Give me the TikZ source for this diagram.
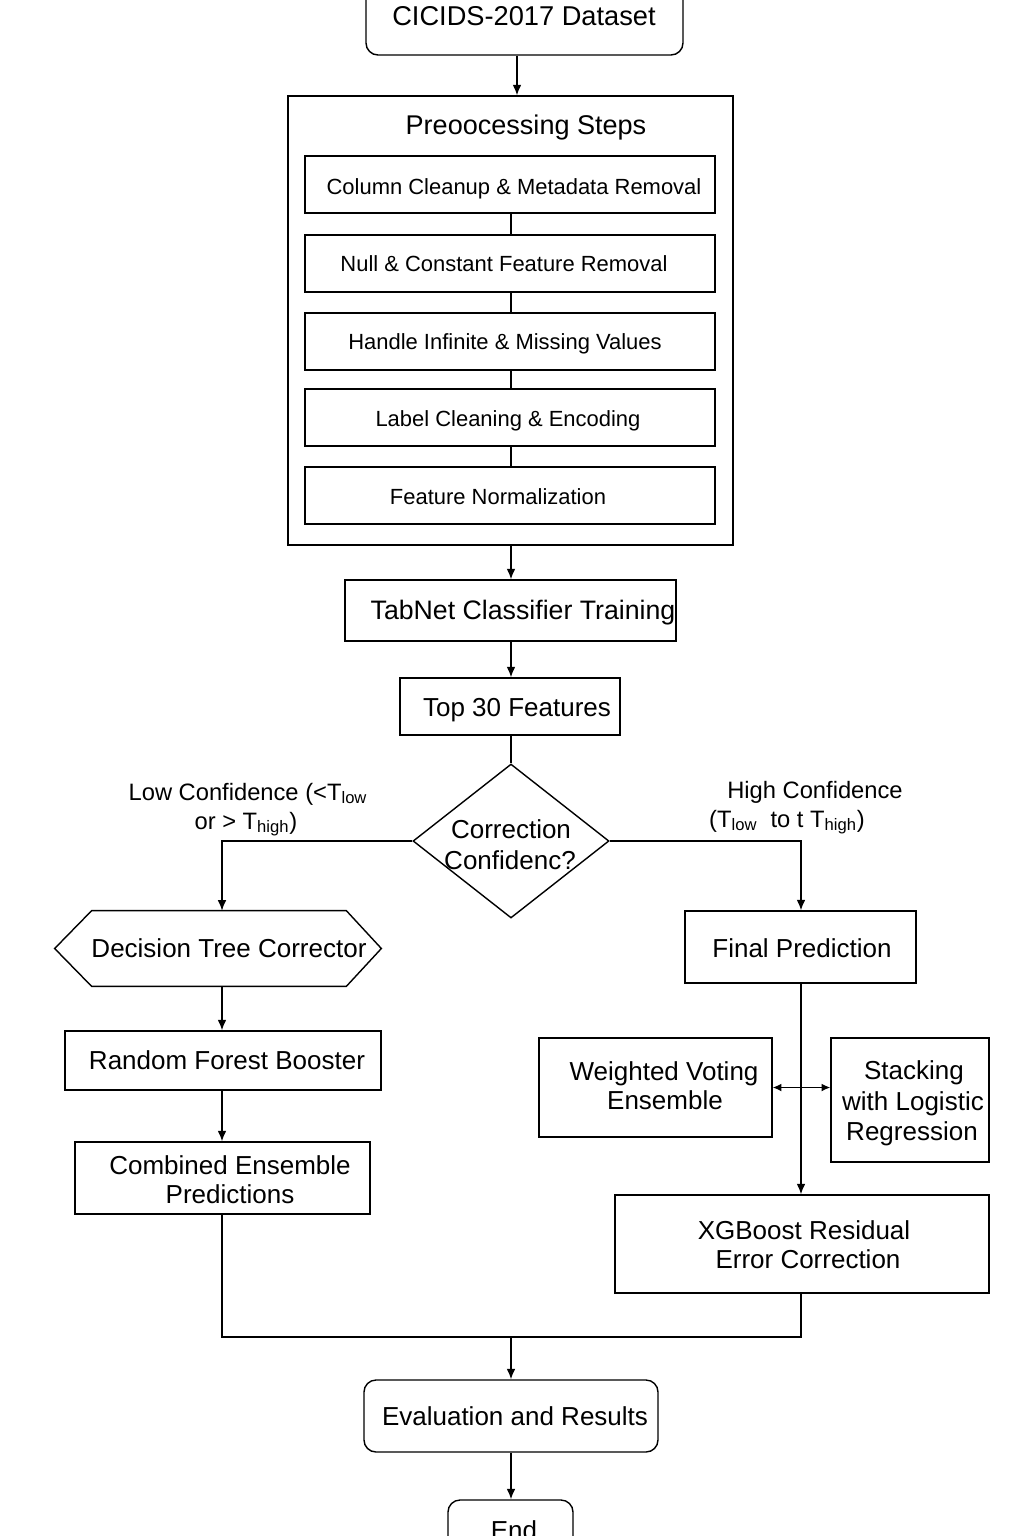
\documentclass[tikz,border=0pt]{standalone}
\usepackage{fontspec}
\setmainfont{Liberation Sans}
\usetikzlibrary{arrows.meta,calc,shapes.geometric}

\tikzset{
  sz/.style 2 args={minimum width=#1*0.02cm, minimum height=#2*0.02cm},
  box/.style={draw, line width=0.8pt, rectangle, inner sep=0pt},
  rbox/.style={box, rounded corners=0.24cm},
  ghost/.style={rectangle, inner sep=0pt},
  decision/.style={draw, line width=0.8pt, diamond, inner sep=0pt},
  txt/.style={inner sep=0pt, anchor=base, font=\fontsize{14.8}{17}\selectfont},
  bigtxt/.style={txt, font=\fontsize{15.5}{18}\selectfont},
  steptxt/.style={txt, font=\fontsize{12.5}{15}\selectfont},
  lbl/.style={txt, font=\fontsize{13.5}{16}\selectfont},
  link/.style={line width=0.8pt},
  arrow/.style={link, -{Latex[length=6pt,width=5pt]}},
  twoway/.style={link, {Latex[length=5pt,width=4.5pt]}-{Latex[length=5pt,width=4.5pt]}},
}

\begin{document}
\begin{tikzpicture}[x=0.02cm, y=-0.02cm]
\clip (0,0) rectangle (1024,1536);
\fill[white] (0,0) rectangle (1024,1536);

% ---- input and preprocessing ----
\node[rbox, sz={317}{95}] (data) at (524.5,7.5) {};
\node[bigtxt] (datat) at (524,25) {CICIDS-2017 Dataset};

\node[box, sz={445}{449}] (prep) at (510.5,320.5) {};
\node[txt, font=\fontsize{15.4}{18}\selectfont] (prept) at (526,134) {Preoocessing Steps};

\node[box, sz={410}{57}] (s1) at (510,184.5) {};
\node[box, sz={410}{57}] (s2) at (510,263.5) {};
\node[box, sz={410}{57}] (s3) at (510,341.5) {};
\node[box, sz={410}{57}] (s4) at (510,417.5) {};
\node[box, sz={410}{57}] (s5) at (510,495.5) {};
\node[steptxt] (s1t) at (514,194) {Column Cleanup \& Metadata Removal};
\node[steptxt] (s2t) at (504,271) {Null \& Constant Feature Removal};
\node[steptxt] (s3t) at (505,349) {Handle Infinite \& Missing Values};
\node[steptxt] (s4t) at (508,426) {Label Cleaning \& Encoding};
\node[steptxt] (s5t) at (498,504) {Feature Normalization};

% ---- model ----
\node[box, sz={331}{61}] (tab) at (510.5,610.5) {};
\node[txt, font=\fontsize{15.2}{18}\selectfont] (tabt) at (523,619) {TabNet Classifier Training};

\node[box, sz={220}{57}] (top) at (510,706.5) {};
\node[txt] (topt) at (517,716) {Top 30 Features};

\node[decision, sz={196}{154}] (dia) at (511,841) {};
\node[txt] (diat1) at (511,838) {Correction};
\node[txt] (diat2) at (510,869) {Confidenc?};

\node[lbl] (lowt1) at (248,800) {Low Confidence (<T\textsubscript{low}};
\node[lbl] (lowt2) at (246,829) {or > T\textsubscript{high})};
\node[lbl] (hight1) at (815,798) {High Confidence};
\node[lbl] (hight2) at (787,827) {(T\textsubscript{low}\ \ to t T\textsubscript{high})};

% ---- low-confidence branch ----
\node[ghost, sz={326}{75}] (dt) at (218,948.5) {};
\draw[link] (dt.west) -- ($(dt.north west)+(37,0)$) -- ($(dt.north east)+(-35,0)$)
  -- (dt.east) -- ($(dt.south east)+(-35,0)$) -- ($(dt.south west)+(37,0)$) -- cycle;
\node[txt] (dtt) at (229,957) {Decision Tree Corrector};

\node[box, sz={316}{59}] (rf) at (223,1060.5) {};
\node[txt] (rft) at (227,1069) {Random Forest Booster};

\node[box, sz={295}{72}] (cb) at (222.5,1178) {};
\node[txt] (cbt1) at (230,1174) {Combined Ensemble};
\node[txt] (cbt2) at (230,1203) {Predictions};

% ---- high-confidence branch ----
\node[box, sz={231}{72}] (fp) at (800.5,947) {};
\node[txt] (fpt) at (802,957) {Final Prediction};

\node[box, sz={233}{99}] (wv) at (655.5,1087.5) {};
\node[txt] (wvt1) at (664,1080) {Weighted Voting};
\node[txt] (wvt2) at (665,1109) {Ensemble};

\node[box, sz={158}{124}] (st) at (910,1100) {};
\node[txt] (stt1) at (914,1079) {Stacking};
\node[txt] (stt2) at (913,1110) {with Logistic};
\node[txt] (stt3) at (912,1140) {Regression};

\node[box, sz={374}{98}] (xgb) at (802,1244) {};
\node[txt] (xgbt1) at (804,1239) {XGBoost Residual};
\node[txt] (xgbt2) at (808,1268) {Error Correction};

% ---- output ----
\node[rbox, sz={294}{72}] (ev) at (511,1416) {};
\node[txt] (evt) at (515,1425) {Evaluation and Results};

\node[rbox, sz={125}{80}] (end) at (510.5,1540) {};
\node[txt] (endt) at (514,1539) {End};

% ---- connectors ----
\coordinate (cx) at (517,0);
\coordinate (mx) at (511,0);
\coordinate (lx) at (222,0);
\coordinate (rx) at (801,0);
\coordinate (join) at (511,1337);

\draw[arrow] (data.south -| cx) -- (prep.north -| cx);
\draw[link] (s1.south -| mx) -- (s2.north -| mx);
\draw[link] (s2.south -| mx) -- (s3.north -| mx);
\draw[link] (s3.south -| mx) -- (s4.north -| mx);
\draw[link] (s4.south -| mx) -- (s5.north -| mx);
\draw[arrow] (prep.south -| mx) -- (tab.north -| mx);
\draw[arrow] (tab.south -| mx) -- (top.north -| mx);
\draw[link] (top.south -| mx) -- (dia.north);

\draw[arrow] (dia.west) -| (lx |- dt.north);
\draw[arrow] (dia.east) -| (rx |- fp.north);

\draw[arrow] (lx |- dt.south) -- (lx |- rf.north);
\draw[arrow] (lx |- rf.south) -- (lx |- cb.north);

\draw[arrow] (rx |- fp.south) -- (rx |- xgb.north);
\draw[twoway] (wv.east) -- (wv.east -| st.west);

\draw[link] (lx |- cb.south) -- (lx |- join) -- (rx |- join) -- (rx |- xgb.south);
\draw[arrow] (join) -- (ev.north -| mx);
\draw[arrow] (ev.south -| mx) -- (end.north -| mx);
\end{tikzpicture}
\end{document}
